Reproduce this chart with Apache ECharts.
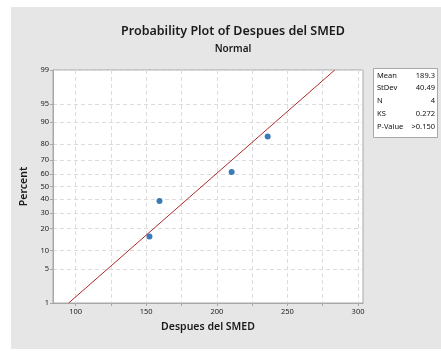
<!DOCTYPE html>
<html>
<head>
<meta charset="utf-8">
<script src="https://cdn.jsdelivr.net/npm/echarts@6/dist/echarts.min.js"></script>
<style>
html,body{margin:0;padding:0;background:#fff;}
#c{width:441px;height:351px;}
</style>
</head>
<body>
<div id="c"></div>
<script>
// ---- data ----
var dataValues = [152.3, 159.4, 210.5, 236.0];       // Despues del SMED
var dataPercents = [15.9, 38.6, 61.4, 84.1];          // plotted percent
var fitLineValues = [95.1, 283.5];                    // fitted line ends
var fitLinePercents = [1, 99];
var yTickPercents = [1, 5, 10, 20, 30, 40, 50, 60, 70, 80, 90, 95, 99];
var xTickLabels = [100, 150, 200, 250, 300];
var xGridValues = [100, 125, 150, 175, 200, 225, 250, 275, 300];
var statLabels = ['Mean', 'StDev', 'N', 'KS', 'P-Value'];
var statValues = ['189.3', '40.49', '4', '0.272', '>0.150'];

// inverse standard normal CDF (probability scale)
function probit(p) {
  var a = [-3.969683028665376e+01, 2.209460984245205e+02, -2.759285104469687e+02, 1.383577518672690e+02, -3.066479806614716e+01, 2.506628277459239e+00];
  var b = [-5.447609879822406e+01, 1.615858368580409e+02, -1.556989798598866e+02, 6.680131188771972e+01, -1.328068155288572e+01];
  var c = [-7.784894002430293e-03, -3.223964580411365e-01, -2.400758277161838e+00, -2.549732539343734e+00, 4.374664141464968e+00, 2.938163982698783e+00];
  var d = [7.784695709041462e-03, 3.224671290700398e-01, 2.445134137142996e+00, 3.754408661907416e+00];
  var pl = 0.02425, q, r;
  if (p < pl) {
    q = Math.sqrt(-2 * Math.log(p));
    return (((((c[0]*q+c[1])*q+c[2])*q+c[3])*q+c[4])*q+c[5]) / ((((d[0]*q+d[1])*q+d[2])*q+d[3])*q+1);
  } else if (p <= 1 - pl) {
    q = p - 0.5; r = q * q;
    return (((((a[0]*r+a[1])*r+a[2])*r+a[3])*r+a[4])*r+a[5])*q / (((((b[0]*r+b[1])*r+b[2])*r+b[3])*r+b[4])*r+1);
  } else {
    q = Math.sqrt(-2 * Math.log(1 - p));
    return -(((((c[0]*q+c[1])*q+c[2])*q+c[3])*q+c[4])*q+c[5]) / ((((d[0]*q+d[1])*q+d[2])*q+d[3])*q+1);
  }
}

var yTickZ = yTickPercents.map(function (p) { return probit(p / 100); });
function zToLabel(z) {
  for (var i = 0; i < yTickZ.length; i++) {
    if (Math.abs(yTickZ[i] - z) < 1e-6) return String(yTickPercents[i]);
  }
  return '';
}

var points = dataValues.map(function (v, i) { return [v, probit(dataPercents[i] / 100)]; });
var fitLine = fitLineValues.map(function (v, i) { return [v, probit(fitLinePercents[i] / 100)]; });

var FONT = 'Noto Sans';
var chart = echarts.init(document.getElementById('c'), null, {renderer: 'canvas'});

var graphics = [
  {type: 'rect', left: 11, top: 7, shape: {width: 430, height: 342}, style: {fill: '#e6e6e6'}, z: -10, silent: true},
  {type: 'rect', left: 373, top: 68, shape: {width: 64, height: 69}, style: {fill: '#fff', stroke: '#a8a8a8', lineWidth: 1}, z: 5}
];
statLabels.forEach(function (lab, i) {
  graphics.push({type: 'text', left: 377, top: 71.5 + i * 12.8, style: {text: lab, font: '7.5px "' + FONT + '"', fill: '#111'}, z: 6});
  graphics.push({type: 'text', right: 6, top: 71.5 + i * 12.8, style: {text: statValues[i], font: '7.5px "' + FONT + '"', fill: '#111', textAlign: 'right'}, z: 6});
});

chart.setOption({
  animation: false,
  backgroundColor: '#fff',
  textStyle: {fontFamily: FONT},
  title: [
    {text: 'Probability Plot of Despues del SMED', left: 228, top: 20, textAlign: 'center',
     textStyle: {fontSize: 12.5, fontWeight: 600, color: '#1a1a1a', fontFamily: FONT}},
    {text: 'Normal', left: 228, top: 39, textAlign: 'center',
     textStyle: {fontSize: 10, fontWeight: 600, color: '#1a1a1a', fontFamily: FONT}}
  ],
  grid: {left: 53, top: 70, right: 78, bottom: 48, show: true, backgroundColor: '#fff', borderColor: '#a8a8a8', borderWidth: 1},
  xAxis: {
    type: 'value', min: 84, max: 303.5,
    name: 'Despues del SMED', nameLocation: 'middle', nameGap: 19,
    nameTextStyle: {fontSize: 10.5, fontWeight: 600, color: '#1a1a1a', fontFamily: FONT},
    axisLine: {show: true, onZero: false, lineStyle: {color: '#a8a8a8'}},
    axisTick: {show: true, length: 3, customValues: xGridValues, lineStyle: {color: '#a8a8a8'}},
    axisLabel: {customValues: xTickLabels, fontSize: 7.5, color: '#222', margin: 5},
    splitLine: {show: true, lineStyle: {color: '#dcdcdc', type: [4, 3]}}
  },
  yAxis: {
    type: 'value', min: yTickZ[0], max: yTickZ[yTickZ.length - 1],
    name: 'Percent', nameLocation: 'middle', nameGap: 20, nameRotate: 90,
    nameTextStyle: {fontSize: 10.5, fontWeight: 600, color: '#1a1a1a', fontFamily: FONT},
    axisLine: {show: true, onZero: false, lineStyle: {color: '#a8a8a8'}},
    axisTick: {show: true, length: 3, customValues: yTickZ, lineStyle: {color: '#a8a8a8'}},
    axisLabel: {customValues: yTickZ, formatter: function (v) { return zToLabel(v); }, fontSize: 7.5, color: '#222', margin: 4},
    splitLine: {show: true, lineStyle: {color: '#dcdcdc', type: [4, 3]}}
  },
  series: [
    {type: 'line', data: fitLine, symbol: 'none', lineStyle: {color: '#b22a2a', width: 1}, z: 3, silent: true},
    {type: 'scatter', data: points, symbol: 'circle', symbolSize: 6, itemStyle: {color: '#0b5aa6'}, z: 4}
  ],
  graphic: graphics
});
</script>
</body>
</html>
